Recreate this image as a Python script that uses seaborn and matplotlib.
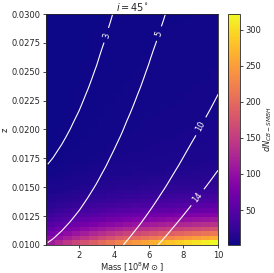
import numpy as np
import matplotlib
matplotlib.use("Agg")
import matplotlib.pyplot as plt
import seaborn as sns

sns.set_style("ticks")
plt.rcParams['font.family'] = ['DejaVu Sans']

# ---- heatmap data ----
mass_edges = np.linspace(0.1, 10, 21)
z_edges = np.linspace(0.010, 0.030, 51)
# value profile along mass (bottom row), per mass column
f_mass = [112, 128, 143, 158, 172, 186, 199, 212, 224, 235,
          245, 255, 264, 273, 281, 289, 297, 305, 313, 322]
# relative decay along z, per z row (bottom to top)
g_z = [1.00, 0.82, 0.67, 0.54, 0.43, 0.34, 0.27, 0.21, 0.165, 0.13,
       0.105, 0.085, 0.070, 0.058, 0.049, 0.042, 0.037, 0.033, 0.030, 0.028,
       0.026, 0.025, 0.024, 0.023, 0.022, 0.021, 0.0205, 0.020, 0.0195, 0.019,
       0.0185, 0.018, 0.0177, 0.0174, 0.0171, 0.0168, 0.0165, 0.0162, 0.016, 0.0158,
       0.0156, 0.0154, 0.0152, 0.015, 0.0148, 0.0146, 0.0144, 0.0142, 0.0136, 0.013]

# ---- contour field data ----
cont_mass = [0.2, 0.5, 1.0, 1.5, 2.0, 2.5, 3.0, 3.5, 4.0, 4.5, 5.0,
             5.5, 6.0, 6.5, 7.0, 7.5, 8.0, 8.5, 9.0, 9.5, 10.0]
cont_h = [5.00, 5.16, 5.50, 5.90, 6.36, 6.90, 7.50, 8.18, 8.92, 9.72, 10.60,
          11.54, 12.56, 13.64, 14.78, 16.00, 17.25, 18.55, 19.85, 21.20, 22.60]
cont_z = np.linspace(0.010, 0.030, 33)
cont_k = [1.020, 0.960, 0.907, 0.859, 0.816, 0.777, 0.742, 0.710, 0.680, 0.653,
          0.628, 0.604, 0.583, 0.563, 0.544, 0.526, 0.510, 0.495, 0.480, 0.466,
          0.453, 0.441, 0.429, 0.418, 0.408, 0.398, 0.389, 0.380, 0.371, 0.363,
          0.355, 0.347, 0.340]
levels = [3, 5, 10, 14]

x_ticks = [2, 4, 6, 8, 10]
y_ticks = [0.0100, 0.0125, 0.0150, 0.0175, 0.0200, 0.0225, 0.0250, 0.0275, 0.0300]
cbar_ticks = [50, 100, 150, 200, 250, 300]

heat = np.outer(g_z, f_mass)
cfield = np.outer(cont_k, cont_h)

cmap = sns.color_palette("plasma", as_cmap=True)

fig = plt.figure(figsize=(2.74, 2.73), dpi=100)
ax = fig.add_axes([0.168, 0.1026, 0.628, 0.8461])
cax = fig.add_axes([0.832, 0.1026, 0.044, 0.8461])

mesh = ax.pcolormesh(mass_edges, z_edges, heat, cmap=cmap, shading='flat')
cs = ax.contour(cont_mass, cont_z, cfield, levels=levels, colors='white', linewidths=0.8)
ax.clabel(cs, fmt='%d', fontsize=6, inline=True,
          manual=[(3.48, 0.0282), (6.81, 0.0282), (9.1, 0.0202), (8.76, 0.0142)])

ax.set_xlim(0.1, 10)
ax.set_ylim(0.010, 0.030)
ax.set_xticks(x_ticks)
ax.set_yticks(y_ticks)
ax.set_yticklabels([f"{v:.4f}" for v in y_ticks])
ax.tick_params(labelsize=6, length=2.5, width=0.6, pad=1.5)
ax.set_xlabel(r"Mass [$10^8 M\odot$]", fontsize=6, labelpad=1)
ax.set_ylabel("z", fontsize=6, labelpad=1)
ax.set_title(r"$i = 45^{\circ}$", fontsize=7, pad=2)
for s in ax.spines.values():
    s.set_linewidth(0.6)

cb = fig.colorbar(mesh, cax=cax, ticks=cbar_ticks)
cb.ax.tick_params(labelsize=6, length=2.5, width=0.6, pad=1.5)
cb.set_label(r"$dN_{CB-SMBH}$", fontsize=6, labelpad=0)
cb.outline.set_linewidth(0.6)

fig.savefig("out.png", dpi=100)
